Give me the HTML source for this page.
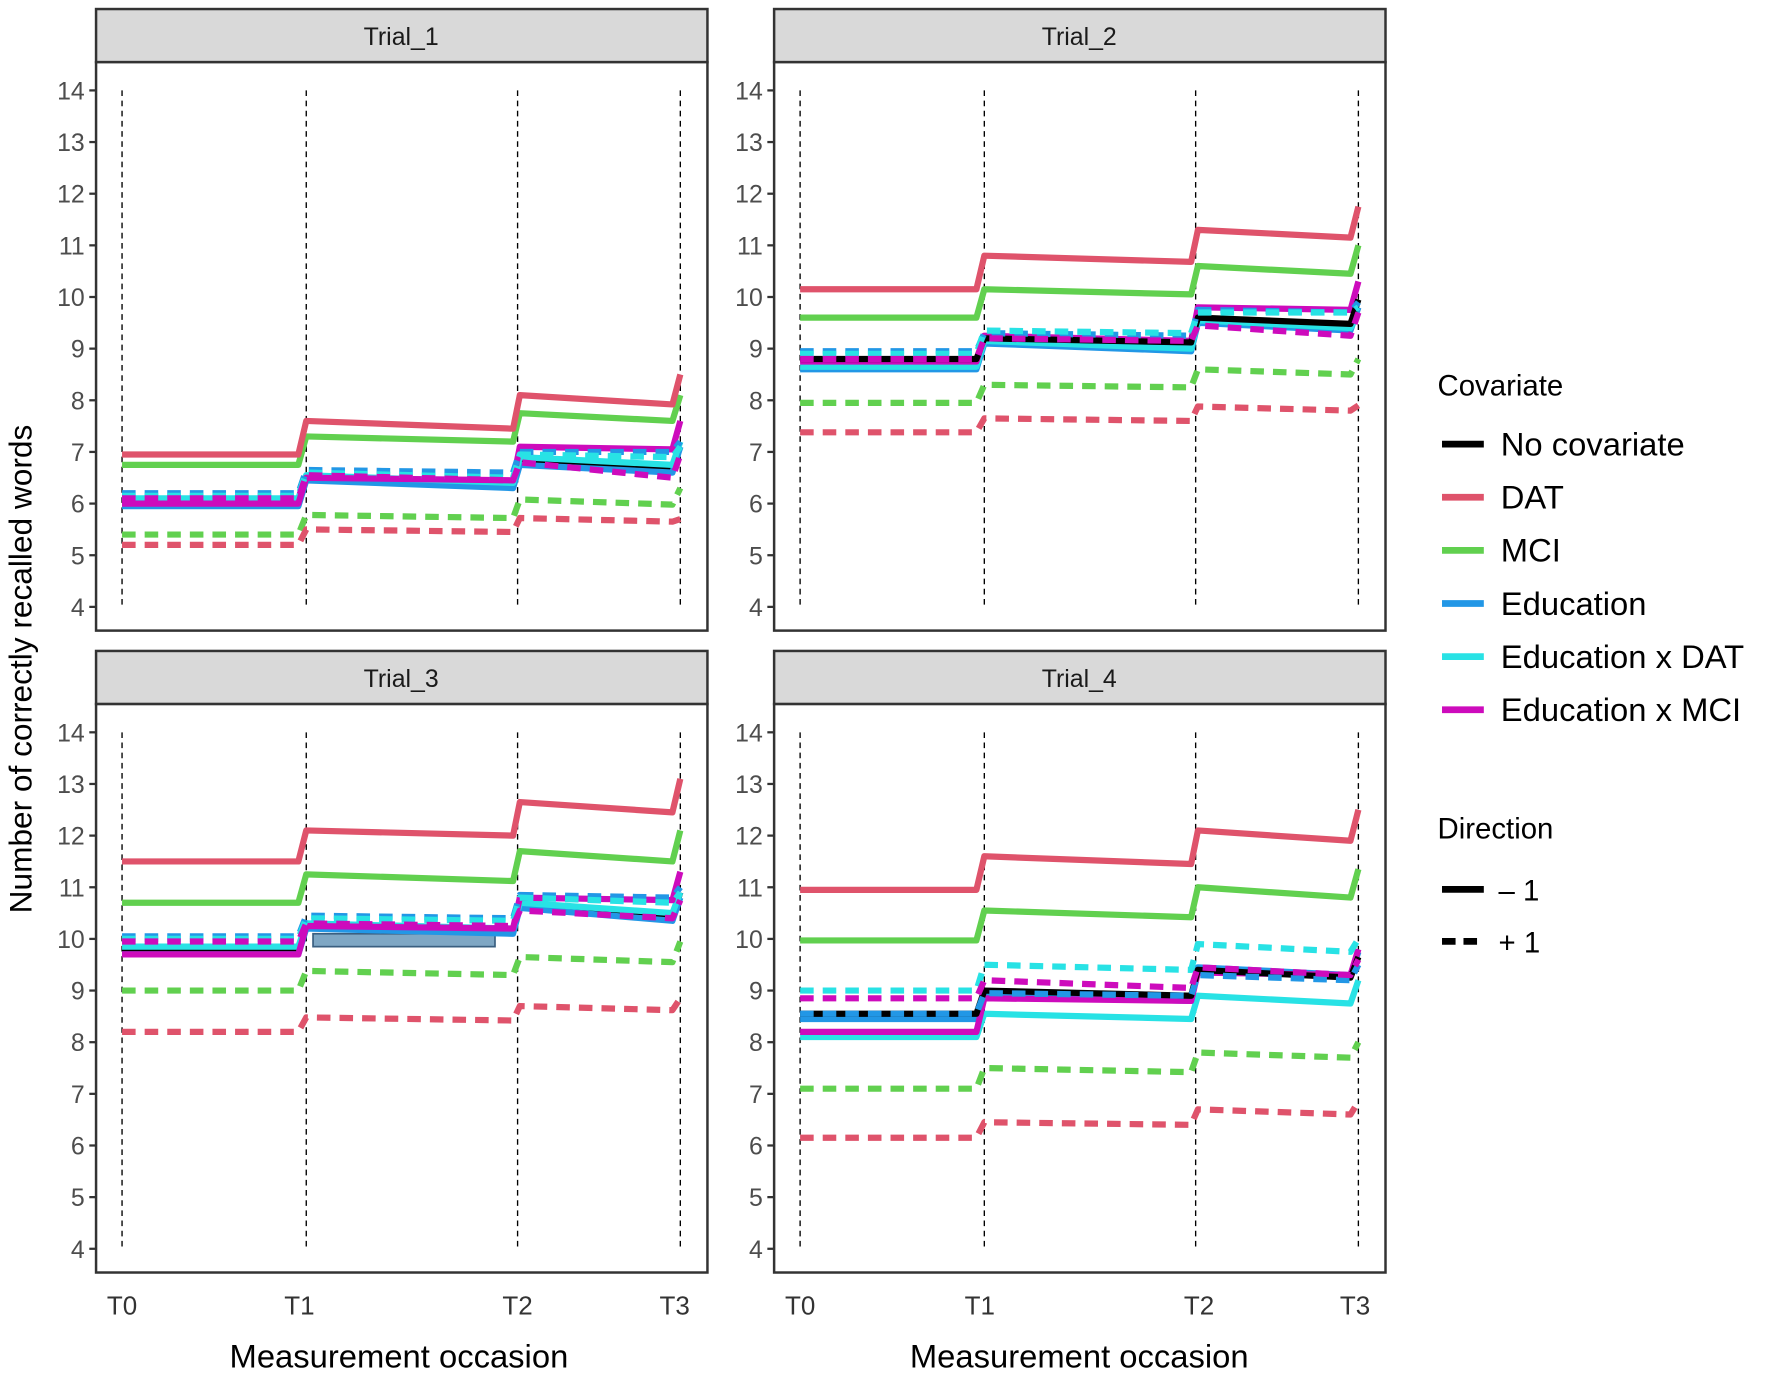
<!DOCTYPE html>
<html><head><meta charset="utf-8"><style>
html,body{margin:0;padding:0;background:#fff;}
svg{display:block;font-family:"Liberation Sans",Arial,sans-serif;}
</style></head><body>
<svg id="s" width="1772" height="1374" viewBox="0 0 1568 1215.8" preserveAspectRatio="none" xmlns="http://www.w3.org/2000/svg">
<rect width="1568" height="1216" fill="#fff"/>
<g id="panels"></g>
<g font-size="22" fill="#1a1a1a" text-anchor="middle">
<text x="355" y="40">Trial_1</text>
<text x="955" y="40">Trial_2</text>
<text x="355" y="608">Trial_3</text>
<text x="955" y="608">Trial_4</text>
</g>
<g font-size="23" fill="#333" text-anchor="middle">
<text x="108" y="1163">T0</text><text x="265" y="1163">T1</text><text x="458" y="1163">T2</text><text x="597" y="1163">T3</text>
<text x="708" y="1163">T0</text><text x="867" y="1163">T1</text><text x="1061" y="1163">T2</text><text x="1199" y="1163">T3</text>
</g>
<g font-size="29" fill="#000" text-anchor="middle">
<text x="353" y="1210">Measurement occasion</text>
<text x="955" y="1210">Measurement occasion</text>
<text font-size="28" transform="translate(28,592) rotate(-90)">Number of correctly recalled words</text>
</g>
<g font-size="26" fill="#000">
<text x="1272" y="350">Covariate</text>
<text x="1328" y="403" font-size="29">No covariate</text>
<text x="1328" y="450" font-size="29">DAT</text>
<text x="1328" y="497" font-size="29">MCI</text>
<text x="1328" y="544" font-size="29">Education</text>
<text x="1328" y="591" font-size="29">Education x DAT</text>
<text x="1328" y="638" font-size="29">Education x MCI</text>
<text x="1272" y="742">Direction</text>
<text x="1326" y="797" font-size="26">– 1</text>
<text x="1326" y="843" font-size="26">+ 1</text>
</g>
<g stroke-width="6">
<line x1="1276" x2="1313" y1="393" y2="393" stroke="#000"/>
<line x1="1276" x2="1313" y1="440" y2="440" stroke="#df536b"/>
<line x1="1276" x2="1313" y1="487" y2="487" stroke="#61d04f"/>
<line x1="1276" x2="1313" y1="534" y2="534" stroke="#2297e6"/>
<line x1="1276" x2="1313" y1="581" y2="581" stroke="#28e2e5"/>
<line x1="1276" x2="1313" y1="628" y2="628" stroke="#cd0bbc"/>
<line x1="1276" x2="1313" y1="787" y2="787" stroke="#000"/>
<line x1="1276" x2="1313" y1="833" y2="833" stroke="#000" stroke-dasharray="12,7"/>
</g>
<g font-size="22" fill="#4d4d4d" text-anchor="end" id="yt"></g>
</svg>
<script>
const NS="http://www.w3.org/2000/svg";
const g=document.getElementById('panels'), yt=document.getElementById('yt');
function el(t,a,p){const e=document.createElementNS(NS,t);for(const k in a)e.setAttribute(k,a[k]);(p||g).appendChild(e);return e;}
const C={k:"#000",r:"#df536b",g:"#61d04f",b:"#2297e6",c:"#28e2e5",m:"#cd0bbc"};
const P=[
{ox:0,oy:0,s:[
["g",1,[5.4,5.78,5.72,6.08,5.98,6.3]],["r",1,[5.2,5.5,5.45,5.72,5.65,5.7]],
["k",0,[6.05,6.5,6.38,6.85,6.7,7.1]],
["g",0,[6.75,7.3,7.2,7.75,7.6,8.1]],["r",0,[6.95,7.6,7.45,8.1,7.92,8.5]],
["b",0,[5.95,6.45,6.3,6.75,6.6,7.1]],["c",0,[6.1,6.55,6.4,6.9,6.75,7.2]],["m",0,[6.0,6.5,6.45,7.1,7.05,7.6]],
["b",1,[6.2,6.65,6.6,7.0,7.0,7.2]],["c",1,[6.15,6.6,6.5,6.95,6.9,7.1]],["m",1,[6.1,6.55,6.45,6.8,6.5,6.95]]]},
{ox:600,oy:0,s:[
["g",1,[7.95,8.3,8.25,8.6,8.5,8.8]],["r",1,[7.38,7.65,7.6,7.88,7.8,7.9]],
["g",0,[9.6,10.15,10.05,10.6,10.45,11.0]],["r",0,[10.15,10.8,10.68,11.3,11.15,11.75]],
["b",0,[8.6,9.1,8.95,9.5,9.35,9.8]],["c",0,[8.65,9.15,9.0,9.55,9.4,9.7]],["m",0,[8.75,9.25,9.15,9.8,9.75,10.3]],
["k",0,[8.8,9.2,9.12,9.6,9.48,9.95]],
["b",1,[8.95,9.3,9.25,9.75,9.7,9.9]],["c",1,[8.9,9.35,9.3,9.7,9.7,9.8]],["m",1,[8.8,9.2,9.15,9.45,9.25,9.7]]]},
{ox:0,oy:568,s:[
["g",1,[9.0,9.38,9.3,9.65,9.55,9.95]],["r",1,[8.2,8.48,8.42,8.7,8.62,8.85]],
["g",0,[10.7,11.25,11.12,11.7,11.5,12.1]],["r",0,[11.5,12.1,12.0,12.65,12.45,13.1]],
["k",0,[9.75,10.25,10.15,10.7,10.45,10.9]],
["b",0,[9.7,10.2,10.1,10.6,10.35,10.8]],["c",0,[9.85,10.3,10.2,10.7,10.5,10.9]],["m",0,[9.7,10.25,10.2,10.8,10.75,11.3]],
["b",1,[10.05,10.45,10.4,10.85,10.8,11.0]],["c",1,[10.0,10.4,10.35,10.8,10.7,10.9]],["m",1,[9.95,10.3,10.25,10.55,10.4,10.75]]]},
{ox:600,oy:568,s:[
["g",1,[7.1,7.5,7.42,7.8,7.7,8.0]],["r",1,[6.15,6.45,6.4,6.7,6.6,6.85]],
["g",0,[9.97,10.55,10.42,11.0,10.8,11.35]],["r",0,[10.95,11.6,11.45,12.1,11.9,12.5]],
["c",0,[8.1,8.55,8.45,8.9,8.75,9.2]],["b",0,[8.45,8.9,8.8,9.45,9.3,9.75]],["m",0,[8.2,8.85,8.8,9.35,9.3,9.8]],
["k",0,[8.55,9.0,8.9,9.4,9.25,9.65]],
["c",1,[9.0,9.5,9.4,9.9,9.75,10.0]],["b",1,[8.55,8.95,8.9,9.3,9.2,9.5]],["m",1,[8.85,9.2,9.05,9.45,9.3,9.6]]]}
];
const TX=[108,271,458,602];
P.forEach(p=>{
 const ox=p.ox, oy=p.oy, Y=v=>oy+537-(v-4)*45.7;
 el('rect',{x:85+ox,y:8+oy,width:541,height:47,fill:'#d9d9d9',stroke:'#333','stroke-width':2.2});
 el('rect',{x:85+ox,y:55+oy,width:541,height:503,fill:'#fff',stroke:'#333','stroke-width':2.2});
 for(let v=4;v<=14;v++){
  el('line',{x1:79+ox,x2:85+ox,y1:Y(v),y2:Y(v),stroke:'#333','stroke-width':2});
  const t=el('text',{x:75+ox,y:Y(v)+8},yt);t.textContent=v;
 }
 TX.forEach(x=>el('line',{x1:x+ox,x2:x+ox,y1:oy+80,y2:oy+537,stroke:'#000','stroke-width':1.2,'stroke-dasharray':'5,4'}));
 if(ox==0&&oy==568) el('rect',{x:277,y:Y(10.1),width:161,height:Y(9.85)-Y(10.1),fill:'#7fa7c4',stroke:'#3a5f80','stroke-width':1.5});
 p.s.forEach(([c,d,v])=>{
  const pts=[[108,v[0]],[264,v[0]],[271,v[1]],[454,v[2]],[460,v[3]],[595,v[4]],[602,v[5]]];
  el('polyline',{points:pts.map(q=>(q[0]+ox)+','+Y(q[1])).join(' '),fill:'none',stroke:C[c],'stroke-width':5.5,'stroke-linejoin':'round','stroke-dasharray':d?'12,8':'none'});
 });
});
</script>
</body></html>
